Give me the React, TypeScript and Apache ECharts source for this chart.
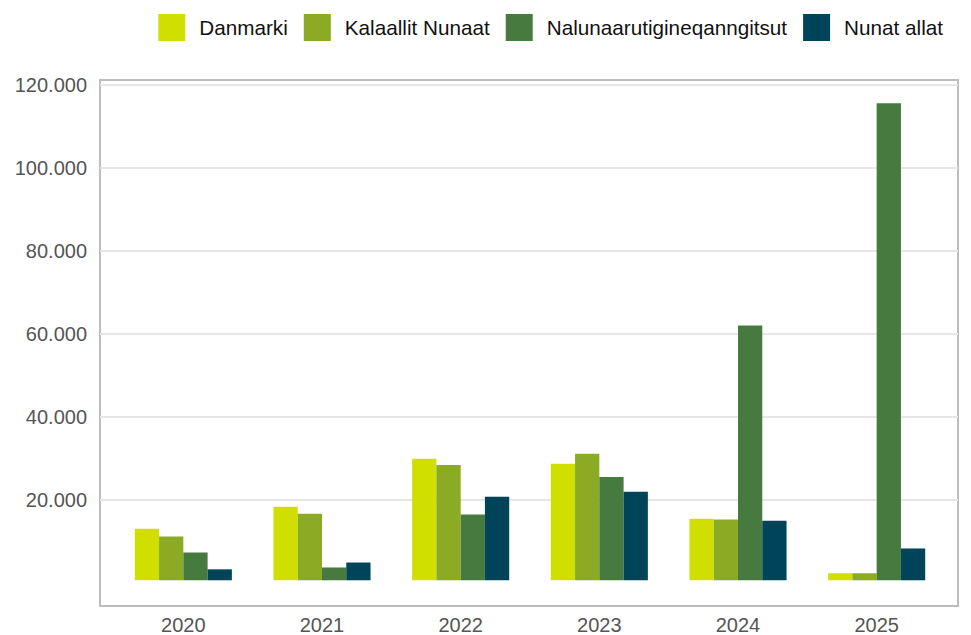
import React, { useEffect, useRef } from "react";
import * as echarts from "echarts";

const years = ["2020", "2021", "2022", "2023", "2024", "2025"];
const seriesNames = ["Danmarki", "Kalaallit Nunaat", "Nalunaarutigineqanngitsut", "Nunat allat"];
const danmarki = [12500, 17800, 29400, 28200, 14900, 1700];
const kalaallitNunaat = [10600, 16100, 27900, 30600, 14700, 1700];
const nalunaarutigineqanngitsut = [6700, 3100, 15900, 25000, 61700, 115500];
const nunatAllat = [2650, 4300, 20200, 21400, 14400, 7700];
const yTicks = [20000, 40000, 60000, 80000, 100000, 120000];
const colors = ["#d0df00", "#8bab24", "#467a3e", "#00445a"];

const FONT = "'Liberation Sans', Arial, sans-serif";
const Y_MIN = -5500;
const Y_MAX = 121100;

function fmt(v: number): string {
  return String(Math.round(v)).replace(/\B(?=(\d{3})+(?!\d))/g, ".");
}

export default function App() {
  const ref = useRef<HTMLDivElement>(null);
  useEffect(() => {
    if (!ref.current) return;
    const chart = echarts.init(ref.current, undefined, { renderer: "svg" });
    const values = [danmarki, kalaallitNunaat, nalunaarutigineqanngitsut, nunatAllat];
    chart.setOption({
      animation: false,
      backgroundColor: "#ffffff",
      textStyle: { fontFamily: FONT },
      legend: {
        right: 23,
        top: 9,
        itemWidth: 27,
        itemHeight: 27,
        itemGap: 16,
        icon: "rect",
        data: seriesNames,
        textStyle: { fontSize: 20.7, color: "#111", fontFamily: FONT, padding: [0, 0, 0, 9] },
      },
      grid: [
        { left: 100, right: 13, top: 80, bottom: 29, show: true, borderColor: "#bdbdbd", borderWidth: 2, backgroundColor: "transparent" },
        { left: 114, right: 25, top: 80, bottom: 29 },
      ],
      xAxis: [
        { gridIndex: 0, type: "value", min: 0, max: 1, show: false },
        {
          gridIndex: 1,
          type: "category",
          data: years,
          axisLine: { show: false },
          axisTick: { show: false },
          axisLabel: { fontSize: 20, color: "#555", margin: 12, fontFamily: FONT },
        },
      ],
      yAxis: [
        {
          gridIndex: 0,
          type: "value",
          min: Y_MIN,
          max: Y_MAX,
          axisLine: { show: false },
          axisTick: { show: false, customValues: yTicks },
          axisLabel: {
            customValues: yTicks,
            fontSize: 20,
            color: "#555",
            margin: 13,
            fontFamily: FONT,
            formatter: (v: number) => fmt(v),
          },
          splitLine: { show: true, lineStyle: { color: "#e6e6e6", width: 2 } },
        },
        { gridIndex: 1, type: "value", min: Y_MIN, max: Y_MAX, show: false },
      ],
      series: seriesNames.map((name, i) => ({
        name,
        type: "bar",
        xAxisIndex: 1,
        yAxisIndex: 1,
        data: values[i],
        itemStyle: { color: colors[i] },
        barGap: "0%",
        barCategoryGap: "30%",
      })),
    });
    return () => chart.dispose();
  }, []);
  return <div ref={ref} style={{ width: 971, height: 635, position: "absolute", left: 0, top: 0 }} />;
}
